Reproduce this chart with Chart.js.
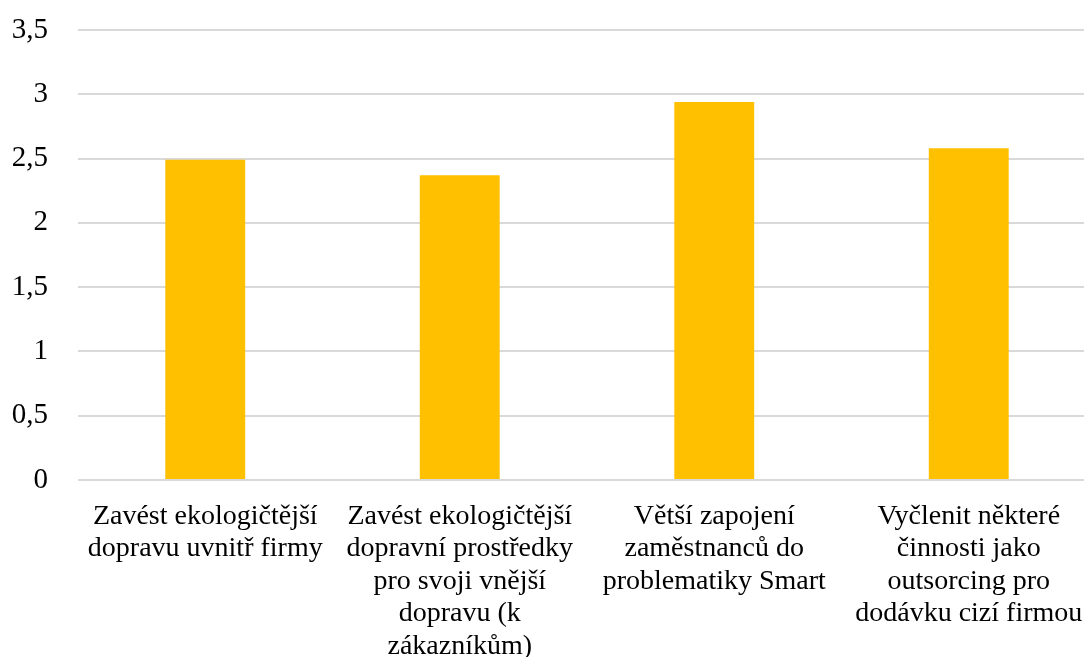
<!DOCTYPE html>
<html>
<head>
<meta charset="utf-8">
<script src="https://cdn.jsdelivr.net/npm/chart.js@4"></script>
<style>
html,body{margin:0;padding:0;background:#fff;overflow:hidden;}
#wrap{width:1099px;height:657px;}
</style>
</head>
<body>
<div id="wrap"><canvas id="c" width="1099" height="657"></canvas></div>
<script>
const categories = [
  ["Zavést ekologičtější","dopravu uvnitř firmy"],
  ["Zavést ekologičtější","dopravní prostředky","pro svoji vnější","dopravu (k","zákazníkům)"],
  ["Větší zapojení","zaměstnanců do","problematiky Smart"],
  ["Vyčlenit některé","činnosti jako","outsorcing pro","dodávku cizí firmou"]
];
const values = [2.49, 2.37, 2.94, 2.58];
const yMin = 0, yMax = 3.5, yStep = 0.5;

new Chart(document.getElementById('c'), {
  type: 'bar',
  data: {
    labels: categories,
    datasets: [{
      data: values,
      backgroundColor: '#FFC000',
      borderWidth: 0,
      barPercentage: 0.314,
      categoryPercentage: 1.0
    }]
  },
  options: {
    responsive: false,
    animation: false,
    devicePixelRatio: 1,
    layout: { padding: { top: 30, right: 3, left: 0, bottom: 0 } },
    plugins: { legend: { display: false }, tooltip: { enabled: false } },
    scales: {
      x: {
        grid: { display: false, drawTicks: false },
        border: { display: false },
        ticks: {
          color: '#000',
          font: { family: '"Liberation Serif", "Times New Roman", serif', size: 28, lineHeight: 1.16 },
          padding: 20,
          maxRotation: 0,
          autoSkip: false
        },
        afterFit: (s) => { s.height = 177; s.paddingLeft = 0; s.paddingRight = 0; }
      },
      y: {
        min: yMin, max: yMax,
        grid: { color: '#d9d9d9', lineWidth: 2, drawTicks: false },
        border: { display: false },
        ticks: {
          stepSize: yStep,
          color: '#000',
          font: { family: '"Liberation Serif", "Times New Roman", serif', size: 29 },
          padding: 30,
          callback: (v) => String(v).replace('.', ',')
        },
        afterFit: (s) => { s.width = 78; s.paddingTop = 0; s.paddingBottom = 0; }
      }
    }
  }
});
</script>
</body>
</html>
